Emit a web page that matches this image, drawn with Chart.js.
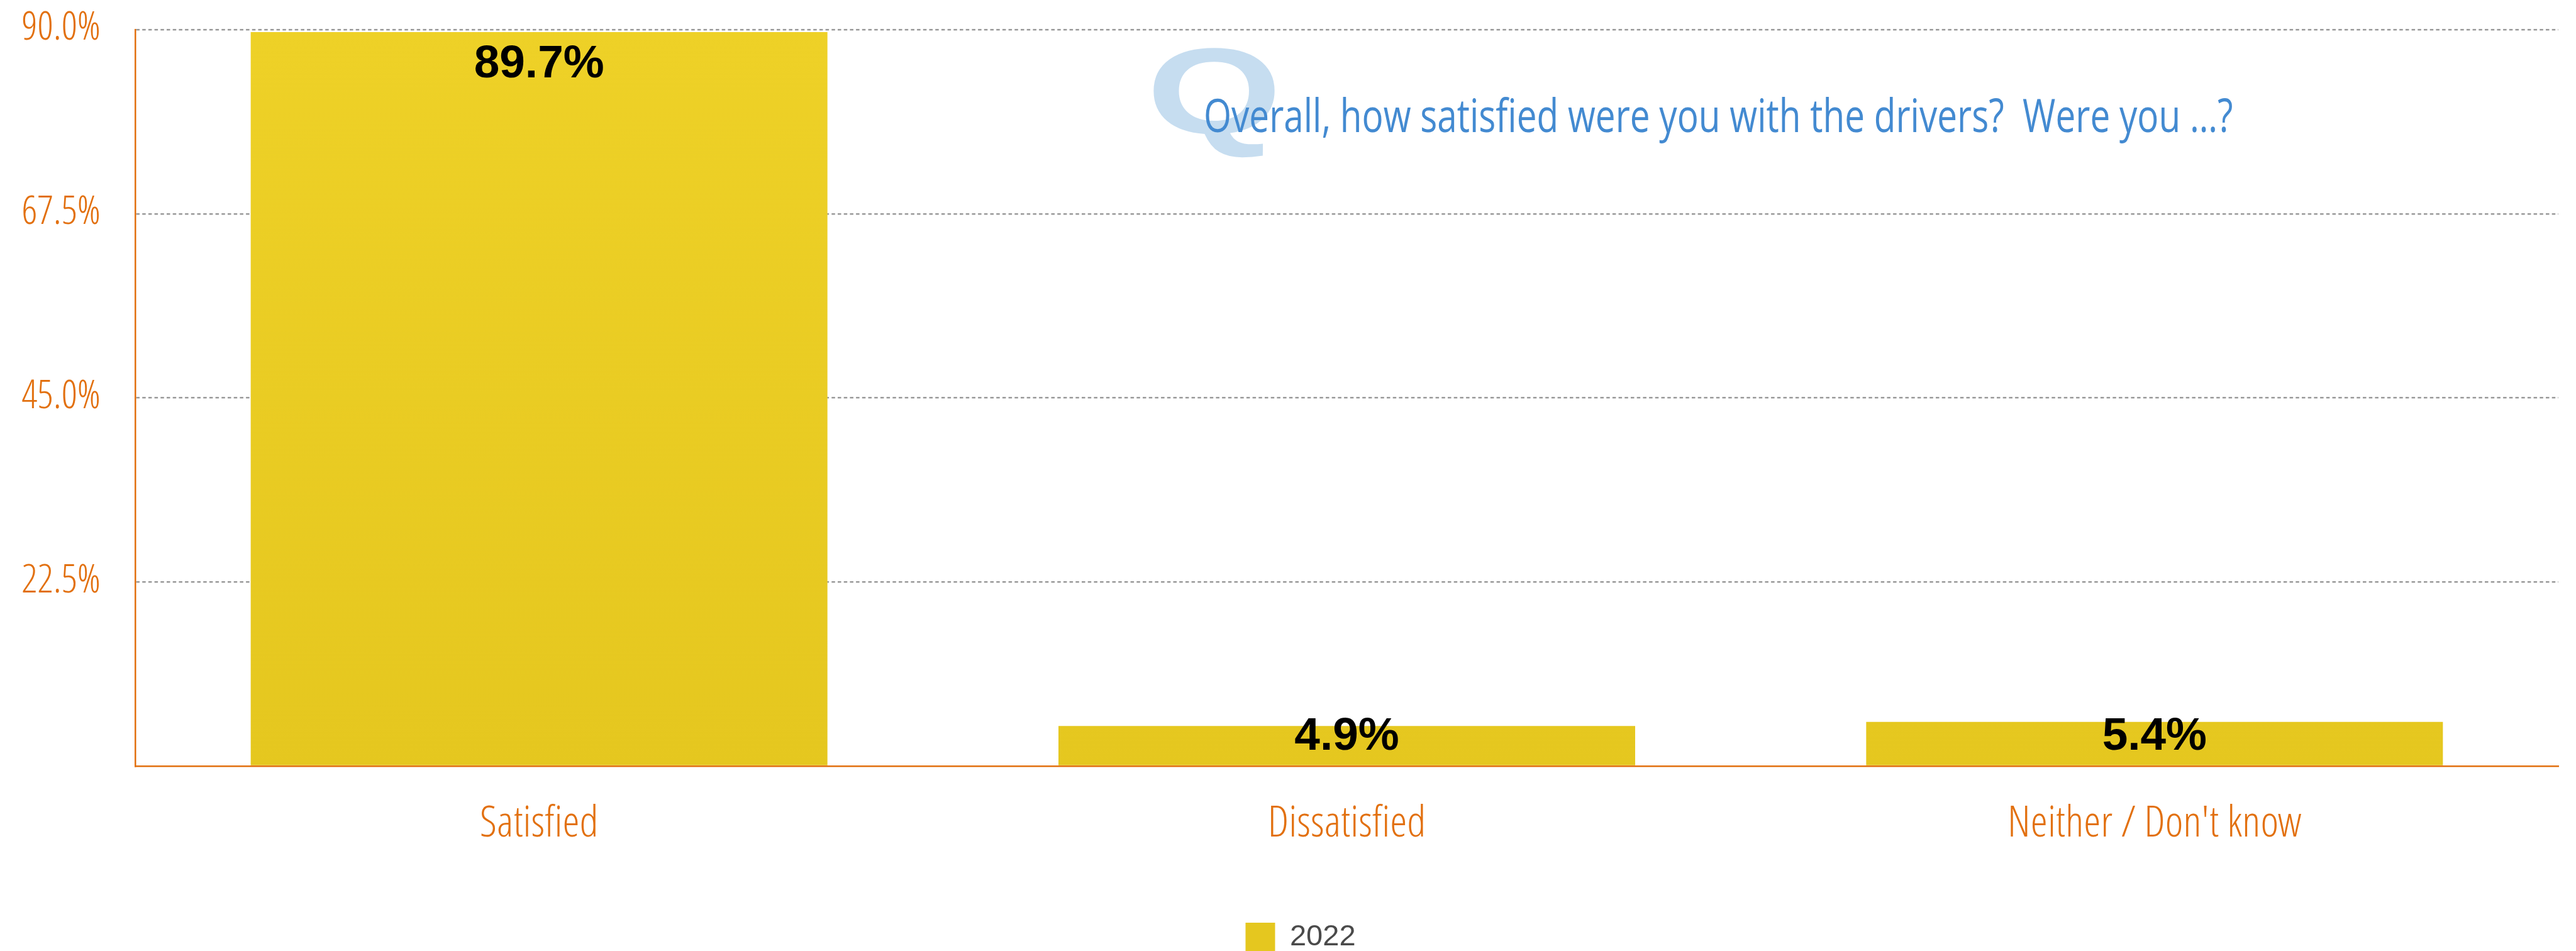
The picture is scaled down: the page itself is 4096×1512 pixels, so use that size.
<!DOCTYPE html>
<html>
<head>
<meta charset="utf-8">
<script src="https://cdn.jsdelivr.net/npm/chart.js@4.4.1/dist/chart.umd.min.js"></script>
<style>
  html, body { margin: 0; padding: 0; background: #ffffff; overflow: hidden; }
  #wrap { width: 4096px; height: 1524px; }
</style>
</head>
<body>
<div id="wrap"><canvas id="chart" width="4096" height="1524"></canvas></div>
<script>
// Survey answers, share of respondents (%)
const categories = ['Satisfied', 'Dissatisfied', "Neither / Don't know"];
const seriesName = '2022';
const values2022 = [89.7, 4.9, 5.4];

// Value axis
const yTicks = [0, 22.5, 45, 67.5, 90];
const yTickLabels = ['', '22.5%', '45.0%', '67.5%', '90.0%'];

// Question heading
const questionBadge = 'Q';
const questionText = 'Overall, how satisfied were you with the drivers?  Were you …?';

const ORANGE = '#E2700F';
const HELV = "'Liberation Sans', Arial, sans-serif";
const HEADING = "'Open Sans', 'Liberation Sans', sans-serif";

// Pick the first light condensed face that is installed
const probe = document.createElement('canvas').getContext('2d');
const probeText = 'Overall, how satisfied 0123456789%';
function measureWith(weight, family) {
  probe.font = weight + ' 100px ' + family;
  return probe.measureText(probeText).width;
}
function hasFont(family, weight) {
  const present = ['monospace', 'serif'].every(fb =>
    Math.abs(measureWith(weight, fb) - measureWith(weight, "'" + family + "', " + fb)) > 0.5);
  if (!present) return false;
  if (/Light/.test(family) || weight >= 600) return true;
  // reject families that only carry a bold face
  const f = "'" + family + "', monospace";
  return Math.abs(measureWith(weight, f) - measureWith(700, f)) > 0.5;
}
const condensedCandidates = [
  ['Open Sans Condensed Light', 300],
  ['Open Sans Condensed', 300],
  ['Roboto Condensed', 300],
  ['Roboto Condensed', 400],
  ['Noto Sans Condensed', 400],
  ['Liberation Sans Narrow', 400],
  ['DejaVu Sans Condensed', 400],
  ['Roboto', 300]
];
const pick = condensedCandidates.find(c => hasFont(c[0], c[1])) || ['Liberation Sans', 400];
const NARROW = "'" + pick[0] + "', 'Liberation Sans', sans-serif";
const NARROW_WEIGHT = pick[1];

function widthPerPx(text) {
  probe.font = NARROW_WEIGHT + ' 100px ' + NARROW;
  return probe.measureText(text).width / 100;
}
// Sizes balanced between run length and glyph height
function fitSize(text, targetWidth, targetCap) {
  const byWidth = targetWidth / widthPerPx(text);
  const byCap = targetCap / 0.72;
  return Math.round(0.75 * byWidth + 0.25 * byCap);
}
const xTickSize = fitSize('Dissatisfied', 253, 48);
const yTickSize = fitSize('90.0%', 128, 42.5);

function barFill(context) {
  const chart = context.chart;
  const area = chart.chartArea;
  if (!area) return '#EACC24';
  const g = chart.ctx.createLinearGradient(0, area.top, 0, area.bottom);
  g.addColorStop(0, '#EED127');
  g.addColorStop(1, '#E5C71F');
  return g;
}

// Percentage written inside the top of each bar
const valueLabels = {
  id: 'valueLabels',
  afterDatasetsDraw(chart) {
    const ctx = chart.ctx;
    const meta = chart.getDatasetMeta(0);
    const data = chart.data.datasets[0].data;
    ctx.save();
    ctx.font = 'bold 73px ' + HELV;
    ctx.fillStyle = '#000000';
    ctx.textAlign = 'center';
    ctx.textBaseline = 'middle';
    meta.data.forEach((bar, i) => {
      const y = Math.min(bar.y + 52, bar.base - 45);
      ctx.fillText(data[i].toFixed(1) + '%', bar.x, y);
    });
    ctx.restore();
  }
};

// Question heading with the large pale "Q" behind it
const questionHeading = {
  id: 'questionHeading',
  afterDraw(chart) {
    const ctx = chart.ctx;
    ctx.save();
    ctx.textAlign = 'left';
    ctx.textBaseline = 'alphabetic';

    // badge letter: box 1833..2028 x 75..250
    ctx.font = 'bold 100px ' + HELV;
    let m = ctx.measureText(questionBadge);
    const qH = m.actualBoundingBoxAscent + m.actualBoundingBoxDescent;
    const qSize = 175 / qH * 100;
    ctx.font = 'bold ' + qSize.toFixed(1) + 'px ' + HELV;
    m = ctx.measureText(questionBadge);
    const qW = m.actualBoundingBoxLeft + m.actualBoundingBoxRight;
    const qSx = 195 / qW;
    ctx.fillStyle = '#C6DDF0';
    ctx.translate(1833 + m.actualBoundingBoxLeft * qSx, 75 + m.actualBoundingBoxAscent);
    ctx.scale(qSx, 1);
    ctx.fillText(questionBadge, 0, 0);
    ctx.setTransform(1, 0, 0, 1, 0, 0);

    // question line: starts at 1917, runs 1632 px, baseline 210
    ctx.font = '400 100px ' + HEADING;
    m = ctx.measureText('O');
    const tSize = 54 / m.actualBoundingBoxAscent * 100;
    ctx.font = '400 ' + tSize.toFixed(1) + 'px ' + HEADING;
    m = ctx.measureText(questionText);
    const tSx = 1632 / (m.actualBoundingBoxLeft + m.actualBoundingBoxRight);
    ctx.fillStyle = '#438AD1';
    ctx.translate(1917 + m.actualBoundingBoxLeft * tSx, 210);
    ctx.scale(tSx, 1);
    ctx.fillText(questionText, 0, 0);
    ctx.restore();
  }
};

// Moves the legend row so the key sits a little right of centre
const legendOffset = {
  id: 'legendOffset',
  afterLayout(chart) {
    const l = chart.legend;
    if (l) { l.left += 34; l.right += 34; }
  }
};

new Chart(document.getElementById('chart'), {
  type: 'bar',
  data: {
    labels: categories,
    datasets: [{
      label: seriesName,
      data: values2022,
      backgroundColor: barFill,
      borderWidth: 0,
      barPercentage: 0.714,
      categoryPercentage: 1.0
    }]
  },
  options: {
    responsive: false,
    devicePixelRatio: 1,
    animation: false,
    layout: { padding: { left: 0, right: 28, top: 47, bottom: 0 } },
    plugins: {
      tooltip: { enabled: false },
      legend: {
        display: true,
        position: 'bottom',
        align: 'center',
        labels: {
          boxWidth: 47,
          boxHeight: 47,
          padding: 10,
          color: '#4A4A4A',
          font: { family: HELV, size: 47 }
        }
      }
    },
    scales: {
      x: {
        grid: { display: false, drawTicks: false },
        border: { display: true, color: ORANGE, width: 2.5 },
        ticks: {
          color: ORANGE,
          padding: Math.round(94 - 0.6 * xTickSize),
          maxRotation: 0,
          font: { family: NARROW, size: xTickSize, weight: NARROW_WEIGHT }
        },
        afterFit(scale) { scale.height = 239; }
      },
      y: {
        min: 0,
        max: 90,
        afterBuildTicks(scale) { scale.ticks = yTicks.map(v => ({ value: v })); },
        grid: {
          drawTicks: false,
          lineWidth: 2.5,
          color: (c) => (c.tick && c.tick.value === 0) ? 'rgba(0,0,0,0)' : '#9A9A9A'
        },
        border: { display: true, color: ORANGE, width: 2.5, dash: [5.5, 4.2] },
        ticks: {
          color: ORANGE,
          padding: 55,
          font: { family: NARROW, size: yTickSize, weight: NARROW_WEIGHT },
          callback: (value) => yTickLabels[yTicks.indexOf(value)]
        },
        afterFit(scale) {
          scale.width = 215;
          scale.paddingTop = 0;
          scale.paddingBottom = 0;
        }
      }
    }
  },
  plugins: [valueLabels, questionHeading, legendOffset]
});
</script>
</body>
</html>
